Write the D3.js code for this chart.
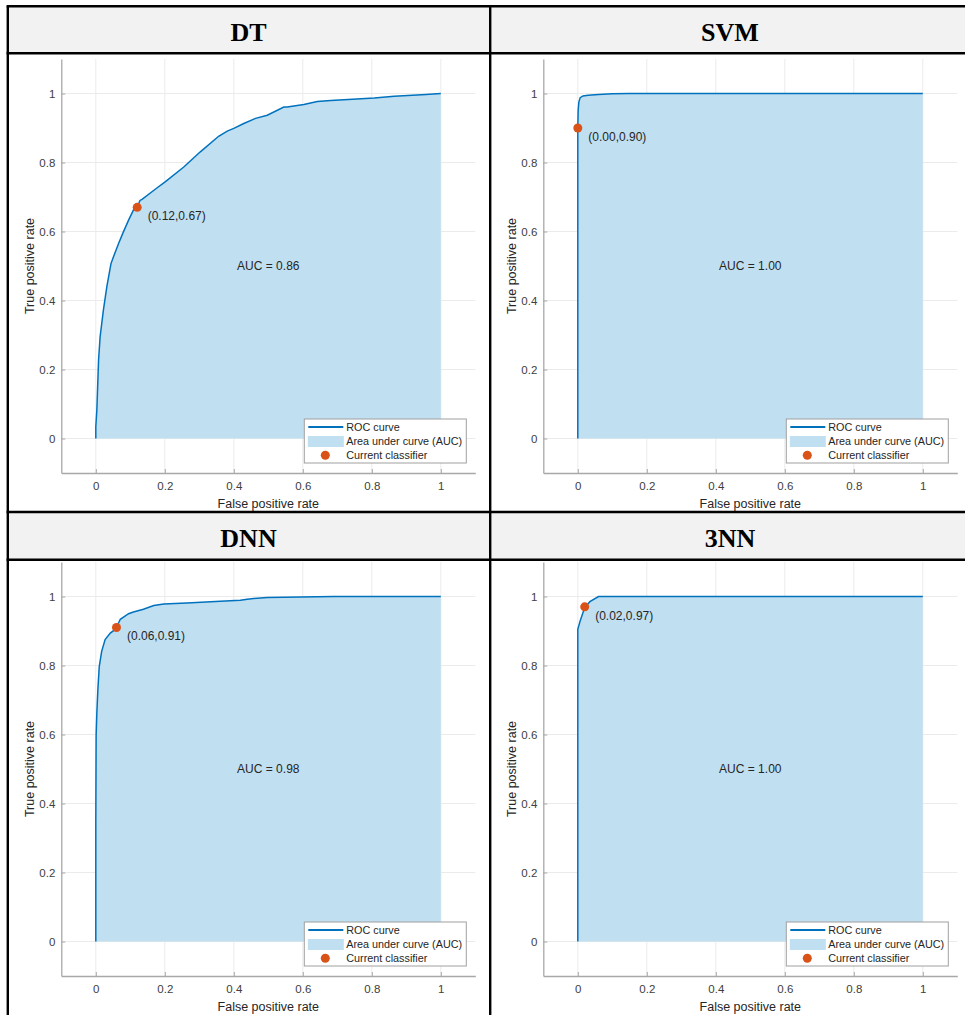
<!DOCTYPE html>
<html>
<head>
<meta charset="utf-8">
<script src="https://cdn.jsdelivr.net/npm/d3@7"></script>
<style>
  body { margin: 0; background: #fff; }
  svg { display: block; }
</style>
</head>
<body>
<svg></svg>
<script>
const svg = d3.select("svg").attr("width", 965).attr("height", 1015);

// data
const models = ["DT", "SVM", "DNN", "3NN"];
const aucValues = [0.86, 1.0, 0.98, 1.0];
const classifierFpr = [0.12, 0.0, 0.06, 0.02];
const classifierTpr = [0.67, 0.9, 0.91, 0.97];

const fprDT = [0, 0, 0.003, 0.008, 0.0125, 0.022, 0.032, 0.044, 0.051, 0.066, 0.08, 0.095, 0.109, 0.12, 0.128, 0.134, 0.177, 0.201, 0.255, 0.303, 0.356, 0.381, 0.4, 0.429, 0.463, 0.497, 0.545, 0.555, 0.603, 0.642, 0.681, 0.807, 0.865, 0.957, 1];
const tprDT = [0, 0.034, 0.082, 0.227, 0.295, 0.372, 0.44, 0.507, 0.526, 0.565, 0.599, 0.633, 0.662, 0.67, 0.69, 0.693, 0.726, 0.744, 0.787, 0.831, 0.876, 0.891, 0.899, 0.913, 0.928, 0.937, 0.961, 0.961, 0.968, 0.977, 0.98, 0.987, 0.992, 0.997, 1];

const fprSVM = [0, 0, 0, 0.001, 0.003, 0.007, 0.015, 0.03, 0.06, 0.1, 0.15, 1];
const tprSVM = [0, 0.5, 0.9, 0.95, 0.975, 0.988, 0.993, 0.995, 0.997, 0.999, 1, 1];

const fprDNN = [0, 0, 0.001, 0.003, 0.006, 0.01, 0.017, 0.027, 0.042, 0.058, 0.071, 0.095, 0.109, 0.138, 0.168, 0.197, 0.264, 0.361, 0.419, 0.439, 0.468, 0.497, 0.691, 1];
const tprDNN = [0, 0.35, 0.6, 0.662, 0.73, 0.797, 0.841, 0.875, 0.894, 0.906, 0.934, 0.95, 0.955, 0.963, 0.974, 0.978, 0.981, 0.986, 0.989, 0.992, 0.995, 0.997, 1, 1];

const fpr3NN = [0, 0, 0.007, 0.02, 0.035, 0.06, 1];
const tpr3NN = [0, 0.905, 0.93, 0.968, 0.985, 1, 1];

const curvesFpr = [fprDT, fprSVM, fprDNN, fpr3NN];
const curvesTpr = [tprDT, tprSVM, tprDNN, tpr3NN];

const tickValues = [0, 0.2, 0.4, 0.6, 0.8, 1];
const legendLabels = ["ROC curve", "Area under curve (AUC)", "Current classifier"];

// layout
const colX = [7.8, 490.2, 969];
const headTop = [6.2, 512];
const headBottom = [53.3, 559.8];
const plotLeft = [61.3, 543.3];
const plotTop = [59, 562];
const plotSize = 414;

const sans = "'Liberation Sans', Arial, Helvetica, sans-serif";
const lineColor = "#0072bd";
const fillColor = "#c0dff1";
const dotColor = "#d95319";

// header rows
for (let r = 0; r < 2; r++) {
  svg.append("rect")
    .attr("x", colX[0]).attr("y", headTop[r])
    .attr("width", colX[2] - colX[0]).attr("height", headBottom[r] - headTop[r])
    .attr("fill", "#f2f2f2");
  for (let c = 0; c < 2; c++) {
    svg.append("text")
      .attr("x", c == 0 ? 248.5 : 730)
      .attr("y", headTop[r] + 34.5)
      .attr("text-anchor", "middle")
      .attr("font-family", "'Liberation Serif', 'Times New Roman', serif")
      .attr("font-weight", "bold")
      .attr("font-size", "26px")
      .attr("fill", "#000")
      .text(models[r * 2 + c]);
  }
}

// panels
for (let k = 0; k < 4; k++) {
  const r = Math.floor(k / 2), c = k % 2;
  const x = d3.scaleLinear().domain([-0.1, 1.1]).range([plotLeft[c], plotLeft[c] + plotSize]);
  const y = d3.scaleLinear().domain([-0.1, 1.1]).range([plotTop[r] + plotSize, plotTop[r]]);
  const g = svg.append("g");

  // grid
  g.selectAll(".vg").data(tickValues).join("line")
    .attr("x1", d => x(d)).attr("x2", d => x(d))
    .attr("y1", y(1.1)).attr("y2", y(-0.1))
    .attr("stroke", "#ebebeb").attr("stroke-width", 1);
  g.selectAll(".hg").data(tickValues).join("line")
    .attr("x1", x(-0.1)).attr("x2", x(1.1))
    .attr("y1", d => y(d)).attr("y2", d => y(d))
    .attr("stroke", "#ebebeb").attr("stroke-width", 1);

  const pts = curvesFpr[k].map((f, i) => [f, curvesTpr[k][i]]);

  // area under curve
  g.append("path")
    .datum(pts)
    .attr("d", d3.area().x(d => x(d[0])).y0(y(0)).y1(d => y(d[1])))
    .attr("fill", fillColor);

  // roc line
  g.append("path")
    .datum(pts)
    .attr("d", d3.line().x(d => x(d[0])).y(d => y(d[1])))
    .attr("fill", "none")
    .attr("stroke", lineColor)
    .attr("stroke-width", 1.5);

  // axes
  const xAxis = d3.axisBottom(x).tickValues(tickValues).tickFormat(d3.format("~g"))
    .tickSizeInner(-4).tickSizeOuter(0).tickPadding(9);
  const yAxis = d3.axisLeft(y).tickValues(tickValues).tickFormat(d3.format("~g"))
    .tickSizeInner(-4).tickSizeOuter(0).tickPadding(6);

  const gx = g.append("g").attr("transform", `translate(0,${y(-0.1)})`).call(xAxis);
  const gy = g.append("g").attr("transform", `translate(${x(-0.1)},0)`).call(yAxis);
  [gx, gy].forEach(a => {
    a.select(".domain").attr("stroke", "#a8a8a8").attr("stroke-width", 1.3);
    a.selectAll(".tick line").attr("stroke", "#a8a8a8");
    a.selectAll(".tick text").attr("fill", "#404040")
      .attr("font-family", sans).attr("font-size", "11.5px");
  });

  // axis titles
  g.append("text")
    .attr("x", x(0.5)).attr("y", y(-0.1) + 35)
    .attr("text-anchor", "middle")
    .attr("font-family", sans).attr("font-size", "12.5px").attr("fill", "#262626")
    .text("False positive rate");
  g.append("text")
    .attr("transform", `translate(${x(-0.1) - 32},${y(0.5)}) rotate(-90)`)
    .attr("text-anchor", "middle")
    .attr("dy", "0.35em")
    .attr("font-family", sans).attr("font-size", "12.5px").attr("fill", "#262626")
    .text("True positive rate");

  // auc text
  g.append("text")
    .attr("x", x(0.5)).attr("y", y(0.5))
    .attr("dy", "0.35em")
    .attr("text-anchor", "middle")
    .attr("font-family", sans).attr("font-size", "12px").attr("fill", "#262626")
    .text("AUC = " + aucValues[k].toFixed(2));

  // current classifier
  g.append("circle")
    .attr("cx", x(classifierFpr[k])).attr("cy", y(classifierTpr[k]))
    .attr("r", 4.5).attr("fill", dotColor);
  g.append("text")
    .attr("x", x(classifierFpr[k]) + 10.5).attr("y", y(classifierTpr[k]) + 8.5)
    .attr("dy", "0.35em")
    .attr("font-family", sans).attr("font-size", "12px").attr("fill", "#262626")
    .text(`(${classifierFpr[k].toFixed(2)},${classifierTpr[k].toFixed(2)})`);

  // legend
  const lx = plotLeft[c] + 243, ly = plotTop[r] + 360;
  const lg = g.append("g").attr("transform", `translate(${lx},${ly})`);
  lg.append("rect").attr("width", 162).attr("height", 44)
    .attr("fill", "#fff").attr("stroke", "#a0a0a0").attr("stroke-width", 1);
  lg.append("line").attr("x1", 4).attr("x2", 39).attr("y1", 8).attr("y2", 8)
    .attr("stroke", lineColor).attr("stroke-width", 2);
  lg.append("rect").attr("x", 3.5).attr("y", 17).attr("width", 36).attr("height", 11)
    .attr("fill", fillColor);
  lg.append("circle").attr("cx", 21).attr("cy", 36.3).attr("r", 4.5).attr("fill", dotColor);
  lg.selectAll(".lt").data(legendLabels).join("text")
    .attr("x", 42).attr("y", (d, i) => 8 + i * 14.2)
    .attr("dy", "0.35em")
    .attr("font-family", sans).attr("font-size", "10.8px").attr("fill", "#262626")
    .text(d => d);
}

// table borders
const border = (x1, y1, x2, y2) => svg.append("line")
  .attr("x1", x1).attr("y1", y1).attr("x2", x2).attr("y2", y2)
  .attr("stroke", "#000").attr("stroke-width", 2.4);
for (let r = 0; r < 2; r++) {
  border(colX[0] - 1.2, headTop[r], colX[2], headTop[r]);
  border(colX[0] - 1.2, headBottom[r], colX[2], headBottom[r]);
}
border(colX[0], headTop[0], colX[0], 1020);
border(colX[1], headTop[0], colX[1], 1020);
border(colX[2], headTop[0], colX[2], 1020);
</script>
</body>
</html>
